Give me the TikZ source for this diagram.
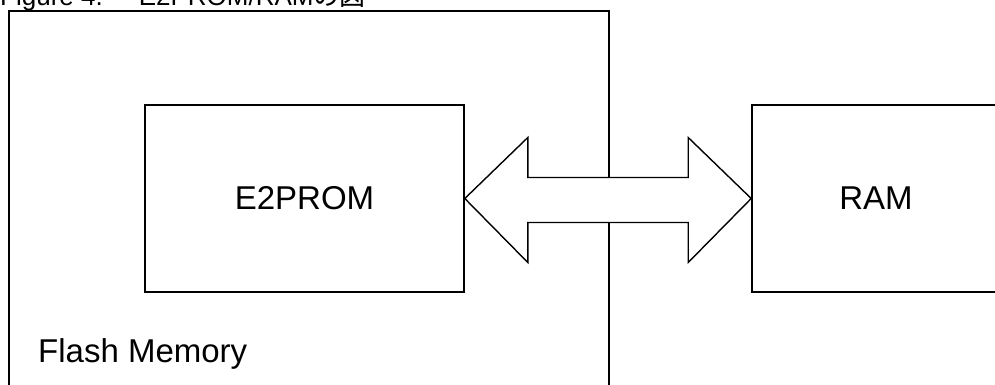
\documentclass[tikz,border=0pt]{standalone}
\usepackage{fontspec}
\setmainfont{Liberation Sans}
\newfontfamily\cjk{Noto Sans CJK JP}
\begin{document}
\begin{tikzpicture}[x=1pt,y=-1pt,
  box/.style={draw=black,line width=1.6pt,rectangle,inner sep=0pt},
  lbl/.style={font=\fontsize{33}{38}\selectfont,inner sep=0pt},
  bus/.style={draw=black,fill=white,line width=1.4pt,line join=miter}]
\useasboundingbox (0,0) rectangle (995,385);
\clip (0,0) rectangle (995,385);
% title (cropped at top, as in the reference)
\node[anchor=base west,inner sep=0pt,font=\fontsize{26}{30}\selectfont] (title) at (0,6) {Figure 4.\hspace{36pt}E2PROM/RAM{\cjk の図}};
% outer flash memory block
\coordinate (fbl) at (9,400);
\coordinate (ftl) at (9,11);
\coordinate (ftr) at (609,11);
\coordinate (fbr) at (609,400);
\draw[line width=1.6pt] (fbl) -- (ftl) -- (ftr) -- (fbr);
\node[lbl,anchor=base west] (flash) at (38,362) {Flash Memory};
% E2PROM
\node[box,lbl,minimum width=319pt,minimum height=187pt] (e2p) at (304.5,198.5) {E2PROM};
% RAM
\node[box,lbl,minimum width=248pt,minimum height=187pt] (ram) at (876,198.5) {RAM};
% double arrow between E2PROM and RAM
\draw[bus] (e2p.east)
  -- ([shift={(63,-61)}]e2p.east) -- ([shift={(63,-21)}]e2p.east)
  -- ([shift={(-63,-21)}]ram.west) -- ([shift={(-63,-61)}]ram.west)
  -- (ram.west)
  -- ([shift={(-63,64)}]ram.west) -- ([shift={(-63,24)}]ram.west)
  -- ([shift={(63,24)}]e2p.east) -- ([shift={(63,64)}]e2p.east)
  -- cycle;
\end{tikzpicture}
\end{document}
